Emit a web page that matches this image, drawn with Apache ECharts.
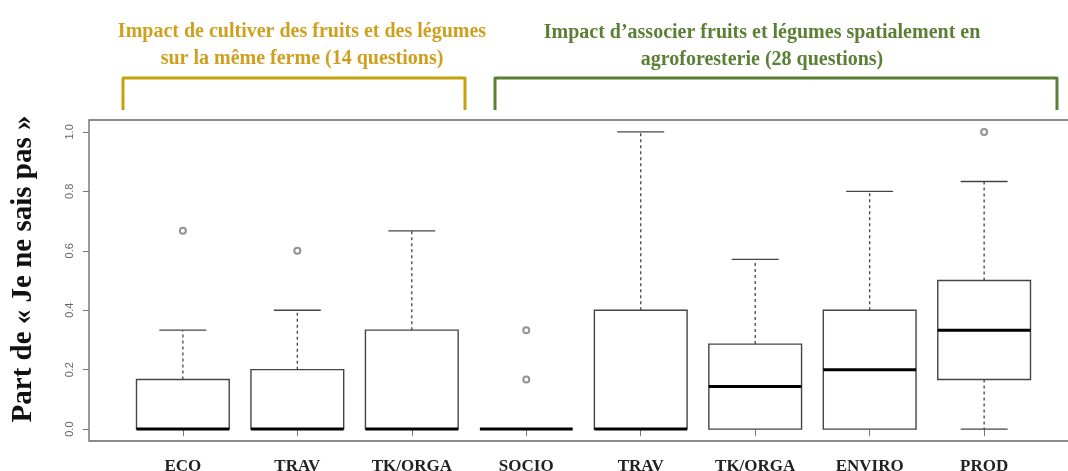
<!DOCTYPE html>
<html>
<head>
<meta charset="utf-8">
<script src="https://cdn.jsdelivr.net/npm/echarts@6/dist/echarts.min.js"></script>
<style>
  html, body { margin: 0; padding: 0; background: #fff; }
  #chart { width: 1068px; height: 471px; }
</style>
</head>
<body>
<div id="chart"></div>
<script>
// categories (the first 3 = même ferme, the 5 others = agroforesterie)
var categories = ['ECO', 'TRAV', 'TK/ORGA', 'SOCIO', 'TRAV', 'TK/ORGA', 'ENVIRO', 'PROD'];
var lowWhisker = [0, 0, 0, 0, 0, 0, 0, 0];
var q1 = [0, 0, 0, 0, 0, 0, 0, 0.167];
var median = [0, 0, 0, 0, 0, 0.143, 0.2, 0.333];
var q3 = [0.167, 0.2, 0.333, 0, 0.4, 0.286, 0.4, 0.5];
var highWhisker = [0.333, 0.4, 0.667, 0, 1.0, 0.571, 0.8, 0.833];
// outliers: [position (1..8), value]
var outliers = [[1, 0.667], [2, 0.6], [4, 0.333], [4, 0.167], [8, 1.0]];
var yTicks = [0, 0.2, 0.4, 0.6, 0.8, 1.0];
var xTicks = [1, 2, 3, 4, 5, 6, 7, 8];

var boxData = [];
for (var i = 0; i < categories.length; i++) {
  boxData.push([i + 1, lowWhisker[i], q1[i], median[i], q3[i], highWhisker[i]]);
}

var gold = '#c3a10f';
var green = '#5b7f34';
var serif = '"Liberation Serif", "DejaVu Serif", serif';

function renderBox(params, api) {
  var x = api.value(0);
  var lo = api.coord([x, api.value(1)]);
  var b1 = api.coord([x, api.value(2)]);
  var md = api.coord([x, api.value(3)]);
  var b3 = api.coord([x, api.value(4)]);
  var hi = api.coord([x, api.value(5)]);
  var bw = api.size([0.81, 0])[0];
  var cw = api.size([0.41, 0])[0];
  var cx = md[0];
  var line = { stroke: '#444', lineWidth: 1.4 };
  var dash = { stroke: '#444', lineWidth: 1.3, lineDash: [3, 3] };
  var kids = [];
  if (hi[1] < b3[1]) {
    kids.push({ type: 'line', shape: { x1: cx, y1: b3[1], x2: cx, y2: hi[1] }, style: dash });
    kids.push({ type: 'line', shape: { x1: cx - cw / 2, y1: hi[1], x2: cx + cw / 2, y2: hi[1] }, style: line });
  }
  if (lo[1] > b1[1]) {
    kids.push({ type: 'line', shape: { x1: cx, y1: b1[1], x2: cx, y2: lo[1] }, style: dash });
    kids.push({ type: 'line', shape: { x1: cx - cw / 2, y1: lo[1], x2: cx + cw / 2, y2: lo[1] }, style: line });
  }
  kids.push({ type: 'rect', shape: { x: cx - bw / 2, y: b3[1], width: bw, height: b1[1] - b3[1] },
    style: { fill: '#fff', stroke: '#444', lineWidth: 1.4 } });
  kids.push({ type: 'line', shape: { x1: cx - bw / 2, y1: md[1], x2: cx + bw / 2, y2: md[1] },
    style: { stroke: '#000', lineWidth: 3 } });
  return { type: 'group', children: kids };
}

var myChart = echarts.init(document.getElementById('chart'));
var option = {
  backgroundColor: '#fff',
  animation: false,
  grid: {
    left: 89, right: -10, top: 120, bottom: 30,
    outerBoundsMode: 'none', containLabel: false,
    show: true, borderColor: '#666', borderWidth: 1.3, backgroundColor: 'transparent'
  },
  xAxis: {
    type: 'value', min: 0.18, max: 8.82,
    splitLine: { show: false },
    axisLine: { show: false },
    axisTick: { show: true, customValues: xTicks, length: 7, lineStyle: { color: '#777' } },
    axisLabel: {
      customValues: xTicks, margin: 17,
      formatter: function (v) { return categories[Math.round(v) - 1]; },
      fontFamily: serif, fontWeight: 'bold', fontSize: 17, color: '#222'
    }
  },
  yAxis: {
    type: 'value', min: -0.04, max: 1.04,
    splitLine: { show: false },
    axisLine: { show: false },
    axisTick: { show: true, customValues: yTicks, length: 6, lineStyle: { color: '#777' } },
    axisLabel: {
      customValues: yTicks, rotate: 90, margin: 14,
      formatter: function (v) { return v.toFixed(1); },
      fontFamily: '"Liberation Sans", Arial, sans-serif', fontSize: 11, color: '#666'
    }
  },
  graphic: [
    { type: 'text', x: 24, y: 269, rotation: Math.PI / 2,
      style: { text: 'Part de « Je ne sais pas »', align: 'center', verticalAlign: 'middle',
        font: 'bold 29px ' + serif, fill: '#111' } },
    { type: 'text', x: 302, y: 45,
      style: { text: 'Impact de cultiver des fruits et des légumes\nsur la même ferme (14 questions)',
        align: 'center', verticalAlign: 'middle', lineHeight: 27,
        font: 'bold 20px ' + serif, fill: '#cf9f1e' } },
    { type: 'text', x: 762, y: 46,
      style: { text: 'Impact d\u2019associer fruits et légumes spatialement en\nagroforesterie (28 questions)',
        align: 'center', verticalAlign: 'middle', lineHeight: 27,
        font: 'bold 20px ' + serif, fill: green } },
    { type: 'polyline', shape: { points: [[123, 110], [123, 78], [465, 78], [465, 110]] },
      style: { stroke: gold, lineWidth: 3, fill: null, lineJoin: 'round' } },
    { type: 'polyline', shape: { points: [[495, 110], [495, 78], [1057, 78], [1057, 110]] },
      style: { stroke: green, lineWidth: 3, fill: null, lineJoin: 'round' } }
  ],
  series: [
    {
      type: 'custom',
      renderItem: renderBox,
      encode: { x: 0, y: [1, 2, 3, 4, 5] },
      data: boxData
    },
    {
      type: 'scatter',
      symbol: 'emptyCircle',
      symbolSize: 6,
      itemStyle: { color: '#777', borderColor: '#777', borderWidth: 1 },
      data: outliers
    }
  ]
};
myChart.setOption(option);
</script>
</body>
</html>
